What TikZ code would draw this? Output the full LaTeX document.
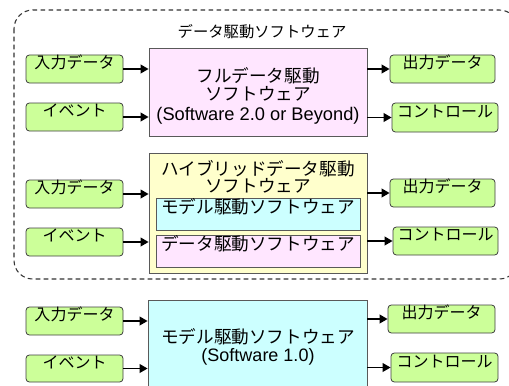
\documentclass[tikz,border=0pt]{standalone}
\usepackage{fontspec}
\setmainfont{Liberation Sans}
\newfontfamily\jp{Noto Sans CJK JP}
\usetikzlibrary{fit,arrows.meta}
\definecolor{lgreen}{RGB}{204,255,153}
\definecolor{lpink}{RGB}{255,230,255}
\definecolor{lyellow}{RGB}{255,255,204}
\definecolor{lcyan}{RGB}{204,255,255}
\tikzset{
  greenbox/.style={draw=black!75, fill=lgreen, rounded corners=2.5pt, inner sep=0pt, line width=0.6pt, font=\jp\fontsize{12}{14}\selectfont, text height=9.6pt, text depth=0.5pt},
  bigbox/.style={draw=black!65, inner sep=0pt, line width=0.6pt, align=center, font=\jp\fontsize{13.2}{13}\selectfont, text height=10.6pt, text depth=0.6pt},
  lbl/.style={inner sep=0pt, align=center, font=\jp\fontsize{13.2}{13}\selectfont},
  arr/.style={-{Triangle[length=6pt,width=6.5pt]}, line width=1.3pt},
  grp/.style={draw=black!80, dashed, dash pattern=on 3.5pt off 2.5pt, rounded corners=14pt, line width=0.8pt}
}
\begin{document}
\begin{tikzpicture}[x=0.75pt,y=-0.75pt]
\useasboundingbox (0,0) rectangle (509,385);
\clip (0,0) rectangle (509,385);
\fill[white] (0,0) rectangle (509,385);
% group
\draw[grp] (14,10) rectangle (518,279);
\node[inner sep=0pt, font=\jp\fontsize{11.5}{13}\selectfont, text height=9.2pt, text depth=0.5pt] (gtitle) at (262,32) {データ駆動ソフトウェア};
% row 1
\node[bigbox, fill=lpink, fit={(149,48)(367,136)}] (full) {};
\node[lbl] (fulllbl) at (258,96) {フルデータ駆動\\ソフトウェア\\[2pt]{\rmfamily\fontsize{13.7}{13}\selectfont (Software 2.0 or Beyond)}};
\node[greenbox, fit={(26,55)(123,83)}] (in1) {入力データ};
\node[greenbox, fit={(26,103)(123,131)}] (ev1) {イベント};
\node[greenbox, fit={(390,55)(495,83)}] (out1) {出力データ};
\node[greenbox, fit={(392,103)(498,132)}] (ct1) {コントロール};
\draw[arr] (in1.east) -- (in1.east -| full.west);
\draw[arr] (ev1.east) -- (ev1.east -| full.west);
\draw[arr] (full.east |- out1.west) -- (out1.west);
\draw[arr] (full.east |- ct1.west) -- (ct1.west);
% row 2
\node[bigbox, fill=lyellow, fit={(149,153)(367,273)}] (hyb) {};
\node[lbl] (hyblbl) at (258,177) {ハイブリッドデータ駆動\\ソフトウェア};
\node[bigbox, fill=lcyan, fit={(156,198)(360,230)}] (hybm) {モデル駆動ソフトウェア};
\node[bigbox, fill=lpink, fit={(156,235)(360,267)}] (hybd) {データ駆動ソフトウェア};
\node[greenbox, fit={(26,180)(123,208)}] (in2) {入力データ};
\node[greenbox, fit={(26,228)(123,256)}] (ev2) {イベント};
\node[greenbox, fit={(390,179)(495,207)}] (out2) {出力データ};
\node[greenbox, fit={(393,227)(498,255)}] (ct2) {コントロール};
\draw[arr] (in2.east) -- (in2.east -| hyb.west);
\draw[arr] (ev2.east) -- (ev2.east -| hyb.west);
\draw[arr] (hyb.east |- out2.west) -- (out2.west);
\draw[arr] (hyb.east |- ct2.west) -- (ct2.west);
% row 3
\node[bigbox, fill=lcyan, fit={(148,300)(367,392)}] (mdl) {};
\node[lbl] (mdllbl) at (258,347) {モデル駆動ソフトウェア\\[0pt]{\rmfamily\fontsize{13.5}{13}\selectfont (Software 1.0)}};
\node[greenbox, fit={(26,307)(123,335)}] (in3) {入力データ};
\node[greenbox, fit={(26,355)(123,382)}] (ev3) {イベント};
\node[greenbox, fit={(388,305)(495,333)}] (out3) {出力データ};
\node[greenbox, fit={(391,353)(498,382)}] (ct3) {コントロール};
\draw[arr] (in3.east) -- (in3.east -| mdl.west);
\draw[arr] (ev3.east) -- (ev3.east -| mdl.west);
\draw[arr] (mdl.east |- out3.west) -- (out3.west);
\draw[arr] (mdl.east |- ct3.west) -- (ct3.west);
\end{tikzpicture}
\end{document}
